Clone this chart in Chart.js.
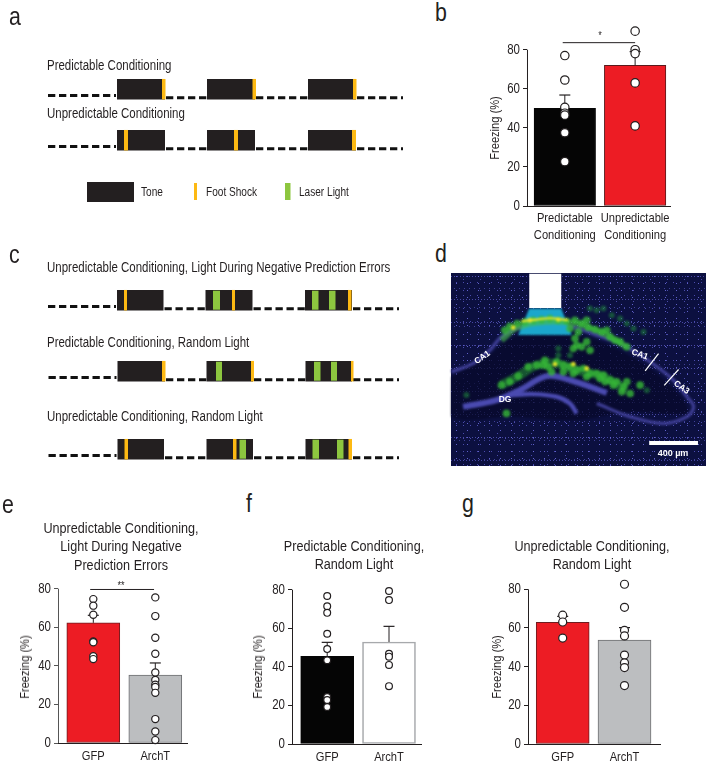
<!DOCTYPE html>
<html>
<head>
<meta charset="utf-8">
<title>Freezing</title>
<script src="https://cdn.jsdelivr.net/npm/chart.js@4"></script>
<style>
  html, body { margin: 0; background: #fff; }
  #page { position: relative; width: 707px; height: 781px; overflow: hidden; font-family: "Liberation Sans", sans-serif; color: #231f20; }
  #page canvas { position: absolute; }
  /* the figure font is condensed, so the text is squeezed sideways */
  .t { position: absolute; white-space: nowrap; font-size: 14px; line-height: 16px; transform-origin: 0 50%; transform: translateY(-50%) scaleX(.82); }
  .c { text-align: center; transform-origin: 50% 50%; transform: translate(-50%, -50%) scaleX(.82); }
  .ytitle { font-size: 13.5px; transform-origin: 50% 50%; transform: translate(-50%, -50%) rotate(-90deg) scaleX(.82); }
  .title { font-size: 15.4px; line-height: 18.4px; text-align: center; transform-origin: 50% 0; transform: translateX(-50%) scaleX(.82); }
  .letter { position: absolute; font-size: 26px; line-height: 26px; transform-origin: 0 50%; transform: translateY(-50%) scaleX(.82); }
  .m { position: absolute; color: #fff; font: bold 8.5px "Liberation Sans", sans-serif; white-space: nowrap; transform: translate(-50%, -50%) rotate(var(--r, 0deg)); }
  /* stipple of the micrograph background */
  #micro { position: absolute; left: 451px; top: 273px; width: 255px; height: 193px; background-color: #0c1040;
    background-image:
      radial-gradient(circle, rgba(110,110,225,.85) .5px, transparent 1px),
      radial-gradient(circle, rgba(90,90,200,.8) .5px, transparent 1px),
      radial-gradient(circle, rgba(100,100,215,.7) .55px, transparent 1px),
      radial-gradient(circle, rgba(80,80,180,.75) .45px, transparent 1px),
      radial-gradient(circle, rgba(95,95,205,.7) .5px, transparent 1px);
    background-size: 11px 7px, 7px 13px, 17px 11px, 5px 19px, 3px 23px;
    background-position: 0 0, 2px 3px, 4px 1px, 1px 6px, 2px 15px; }
</style>
</head>
<body>
<div id="page"></div>
<script>
/* DATA */
const yTicks = [0, 20, 40, 60, 80];

const labelsB = [["Predictable", "Conditioning"], ["Unpredictable", "Conditioning"]];
const meansB = [50, 72];
const errB = [56.8, 79];
const dotsB0 = [77, 64.5, 50.5, 47.5, 46.5, 37.5, 22.7];
const dotsB1 = [89.5, 80, 78, 63, 41];

const labelsE = ["GFP", "ArchT"];
const meansE = [62.3, 35.2];
const errE = [66.2, 41.5];
const dotsE0 = [74.6, 71.2, 66.5, 52.6, 52.2, 45, 43.5];
const dotsE1 = [75.5, 65.8, 54.6, 46.3, 36.6, 32.7, 30.2, 29, 26, 12.4, 6, 1.5];

const meansF = [45.4, 52.9];
const errF = [52.7, 61];
const dotsF0 = [76.7, 71.4, 68, 57.2, 49.2, 43.4, 24.4, 22.8, 19.2];
const dotsF1 = [79.3, 74.6, 46.8, 45.3, 41, 30];

const meansG = [62.9, 53.8];
const errG = [66, 60.2];
const dotsG0 = [66.6, 63.1, 54.8];
const dotsG1 = [82.6, 70.7, 58.8, 55.9, 46, 42, 39.5, 30.2];

/* schematic spans */
const tonesA = [[117, 165], [207, 255], [308, 356]];
const shocksA1 = [[162, 165.5], [252.5, 256], [353, 356.5]];
const shocksA2 = [[124, 128], [234, 238], [352, 356]];
const tonesC1 = [[117, 163.5], [205.5, 252.5], [305, 352]];
const shocksC1 = [[124, 127], [232, 235], [348, 351.5]];
const lightC1 = [[213, 220], [312, 318.5], [329, 335.5]];
const tonesC2 = [[117.5, 165], [206.5, 253], [305.5, 352]];
const shocksC2 = [[162, 165.5], [251, 254], [351, 353.5]];
const lightC2 = [[216, 222], [314, 320.5], [331, 337]];
const tonesC3 = [[117.5, 164], [206.5, 253], [305.5, 352]];
const shocksC3 = [[124.5, 128], [233, 236.5], [348.5, 352]];
const lightC3 = [[239.5, 246], [312.5, 319], [337, 343.5]];

/* micrograph, in picture units */
const ca1Layer = [[65, 395], [130, 370], [180, 330], [215, 290], [270, 262], [340, 250], [420, 258], [500, 285], [580, 315], [660, 365], [730, 420], [770, 470], [790, 500], [770, 530], [700, 550], [600, 530], [500, 490]];
const dgUpper = [[100, 500], [200, 480], [270, 450], [350, 408], [420, 420], [530, 458]];
const dgLower = [[240, 465], [310, 462], [380, 470], [420, 490], [440, 520]];
const hilus = [[65, 410], [180, 345], [230, 300], [340, 270], [500, 300], [660, 385], [760, 480], [770, 520], [600, 515], [440, 540], [250, 530], [65, 530], [65, 410]];
const upperGlow = [[215, 300], [262, 262], [340, 245], [440, 250], [520, 280], [590, 320]];
const lowerGlow = [[215, 435], [265, 408], [320, 375], [380, 370], [440, 390], [520, 410], [590, 450]];
const yellowStreak = [[275, 243], [320, 238], [360, 234], [415, 240]];
const greenCells = [[225, 270], [240, 258], [262, 250], [285, 245], [310, 240], [335, 238], [360, 235], [385, 240], [410, 243], [435, 240], [455, 250], [475, 262], [495, 268], [515, 275], [540, 290], [570, 305], [590, 320], [440, 315], [430, 325], [455, 320], [470, 305], [480, 330], [435, 295], [445, 275], [420, 265], [470, 240], [530, 270], [555, 300], [215, 435], [240, 425], [265, 408], [295, 380], [320, 375], [345, 360], [355, 380], [380, 365], [400, 375], [420, 380], [440, 390], [460, 385], [480, 400], [500, 400], [520, 405], [540, 420], [560, 425], [580, 440], [600, 460], [575, 455], [630, 435], [550, 435], [510, 415], [470, 410], [430, 400], [340, 375], [365, 395], [400, 395], [525, 425], [590, 425], [230, 520]];
const dimCells = [[480, 205], [520, 205], [545, 225], [570, 235], [610, 265], [640, 275], [110, 465], [385, 325], [420, 345], [650, 450], [500, 210], [590, 250], [385, 345]];
const yellowCells = [[250, 262], [375, 372], [430, 372], [470, 385], [300, 240], [385, 238]];
const fiberTip = [[298, 205], [394, 205], [425, 284], [265, 284], [298, 205]];
const fiberBody = [[346, 100], [346, 203]];
const boundary1 = [[685, 340], [645, 392]];
const boundary2 = [[745, 388], [702, 436]];
const scaleBar = [[657, 609], [803, 609]];

const page = document.getElementById("page");
const INK = "#231f20";
const SANS = "'Liberation Sans', sans-serif";
const Y_MAX = 96; // room above the 80 tick for the dots that pass it

function addText(cls, x, y, text, style) {
  const d = document.createElement("div");
  d.className = cls;
  d.style.left = x + "px";
  d.style.top = y + "px";
  d.innerHTML = text;
  if (style) d.style.cssText += style;
  page.appendChild(d);
}

function addCanvas(left, top, w, h, parent) {
  const c = document.createElement("canvas");
  c.width = w;
  c.height = h;
  c.style.left = left + "px";
  c.style.top = top + "px";
  c.style.width = w + "px";
  c.style.height = h + "px";
  (parent || page).appendChild(c);
  return c;
}

/* chart labels get the same sideways squeeze as the page text */
function condense(canvas) {
  const ctx = canvas.getContext("2d");
  const fill = ctx.fillText.bind(ctx);
  ctx.fillText = (s, x, y) => {
    ctx.save();
    ctx.translate(x, y);
    ctx.scale(0.82, 1);
    fill(s, 0, 0);
    ctx.restore();
  };
  return canvas;
}

/* PANELS A + C : TIMELINES */
const schemeSets = [];
function span(a, y, color, width, dash) {
  schemeSets.push({
    type: "line",
    data: [{ x: a[0], y: y }, { x: a[1], y: y }],
    borderColor: color,
    borderWidth: width,
    borderDash: dash || [],
    pointRadius: 0,
    clip: false,
    order: color === "#231f20" ? 3 : dash ? 4 : 1,
  });
}
function row(top, tones, shocks, light) {
  span([tones[0][0] - 69, tones[0][0] - 1], top + 16.5, "#111", 3, [7.3, 3.7]);
  tones.forEach((t, i) => {
    span(t, top + 10.2, "#231f20", 20.5);
    const next = tones[i + 1] ? tones[i + 1][0] : t[1] + 47;
    span([t[1] + 1, next], top + 18.7, "#111", 3, [7.3, 3.7]);
  });
  shocks.forEach((s) => span(s, top + 10.2, "#fdb913", 20.5));
  light.forEach((l) => span(l, top + 10.2, "#8dc63f", 19));
}
row(79, tonesA, shocksA1, []);
row(130, tonesA, shocksA2, []);
row(290, tonesC1, shocksC1, lightC1);
row(361, tonesC2, shocksC2, lightC2);
row(439, tonesC3, shocksC3, lightC3);
span([87, 134], 192, "#231f20", 20);
span([194, 197], 191.5, "#fdb913", 17);
span([285, 290.5], 191.5, "#8dc63f", 17);

new Chart(addCanvas(0, 0, 430, 480), {
  type: "line",
  data: { datasets: schemeSets },
  options: {
    responsive: false,
    animation: false,
    layout: { autoPadding: false },
    plugins: { legend: { display: false }, tooltip: { enabled: false } },
    scales: {
      x: { type: "linear", display: false, min: 0, max: 430 },
      y: { type: "linear", display: false, min: 0, max: 480, reverse: true },
    },
  },
});

/* BAR PANELS */
function barPanel(p) {
  const padL = 44, padR = 12, padB = 46;
  const x0 = Math.round(p.box[0]), x1 = Math.round(p.box[1]);
  const yBot = Math.round(p.box[3]);
  const areaTop = yBot - ((p.box[3] - p.box[2]) * Y_MAX) / 80;
  const top = Math.floor(areaTop) - 14;
  const padT = areaTop - top;
  const unit = p.centers[1] - p.centers[0];
  const xMin = -(p.centers[0] - x0) / unit;
  const xMax = 1 + (x1 - p.centers[1]) / unit;
  const canvas = condense(addCanvas(x0 - padL, top, x1 - x0 + padL + padR, yBot + padB - top));
  const axisColor = p.axisColor || INK;
  const datasets = [];

  [p.dots0, p.dots1].forEach((vals, i) => {
    datasets.push({
      type: "scatter",
      data: vals.map((v) => ({ x: i, y: v })),
      backgroundColor: "#fff",
      borderColor: INK,
      borderWidth: 1.2,
      pointRadius: p.radius,
      clip: false,
      order: 1,
    });
  });
  p.err.forEach((v, i) => {
    datasets.push({
      type: "line",
      data: [{ x: i, y: p.means[i] }, { x: i, y: v }],
      borderColor: INK,
      borderWidth: 1,
      pointStyle: "line",
      pointRadius: [0, 5.5],
      pointBorderColor: INK,
      pointBorderWidth: 1.2,
      clip: false,
      order: 2,
    });
  });
  if (p.bracket) {
    datasets.push({
      type: "line",
      data: [{ x: p.bracket[0], y: p.bracket[2] }, { x: p.bracket[1], y: p.bracket[2] }],
      borderColor: INK,
      borderWidth: 1,
      pointRadius: 0,
      clip: false,
      order: 2,
    });
  }
  // y axis line stops at the 80 tick
  datasets.push({
    type: "line",
    data: [{ x: xMin + 0.5 / unit, y: 0 }, { x: xMin + 0.5 / unit, y: 80 }],
    borderColor: axisColor,
    borderWidth: 1,
    pointRadius: 0,
    clip: false,
    order: 2,
  });
  datasets.push({
    type: "bar",
    data: p.means.map((v, i) => ({ x: i, y: v })),
    backgroundColor: p.fill,
    borderColor: p.edge,
    borderWidth: p.edgeWidth,
    borderSkipped: false,
    barThickness: p.barW,
    order: 3,
  });

  new Chart(canvas, {
    type: "bar",
    data: { datasets },
    options: {
      responsive: false,
      animation: false,
      layout: { autoPadding: false, padding: { top: padT, right: padR, bottom: 0, left: 0 } },
      plugins: { legend: { display: false }, tooltip: { enabled: false } },
      scales: {
        x: {
          type: "linear",
          offset: false,
          min: xMin,
          max: xMax,
          afterFit: (s) => { s.height = padB; },
          afterBuildTicks: (s) => { s.ticks = [{ value: 0 }, { value: 1 }]; },
          border: { color: INK, width: 1 },
          grid: { drawOnChartArea: false, drawTicks: false },
          ticks: {
            autoSkip: false,
            maxRotation: 0,
            padding: p.labelPad,
            color: INK,
            font: { family: SANS, size: 13.6, lineHeight: 1.22 },
            callback: (v) => p.labels[v],
          },
        },
        y: {
          min: 0,
          max: Y_MAX,
          afterFit: (s) => { s.width = padL; },
          afterBuildTicks: (s) => { s.ticks = yTicks.map((v) => ({ value: v })); },
          border: { display: false },
          grid: { drawOnChartArea: false, tickLength: 4, color: axisColor },
          ticks: { padding: 3, color: INK, font: { family: SANS, size: 14 } },
        },
      },
    },
  });
}

barPanel({
  box: [527.3, 671.7, 50, 206.3], centers: [565.3, 636.5], barW: 61.5, radius: 4.2, labelPad: 4,
  labels: labelsB, means: meansB, err: errB, dots0: dotsB0, dots1: dotsB1,
  fill: ["#050505", "#ed1c24"], edge: ["#050505", "#5a1a1c"], edgeWidth: 1, bracket: [-0.03, 1, 83.6],
});
barPanel({
  box: [58, 187.3, 589, 743.3], centers: [93.3, 155.3], barW: 53, radius: 3.6, labelPad: 5,
  labels: labelsE, means: meansE, err: errE, dots0: dotsE0, dots1: dotsE1, axisColor: "#555",
  fill: ["#ed1c24", "#bcbec0"], edge: ["#6d1d20", "#6d6e71"], edgeWidth: 1, bracket: [-0.05, 0.98, 79.6],
});
barPanel({
  box: [291.7, 421, 590, 744.3], centers: [327.2, 389], barW: 53, radius: 3.4, labelPad: 5,
  labels: labelsE, means: meansF, err: errF, dots0: dotsF0, dots1: dotsF1,
  fill: ["#050505", "#fff"], edge: ["#050505", "#a7a9ac"], edgeWidth: 1.6,
});
barPanel({
  box: [527.7, 660, 589, 743.7], centers: [562.7, 624.5], barW: 53, radius: 4, labelPad: 5,
  labels: labelsE, means: meansG, err: errG, dots0: dotsG0, dots1: dotsG1,
  fill: ["#ed1c24", "#bcbec0"], edge: ["#6d1d20", "#6d6e71"], edgeWidth: 1,
});

/* PANEL D : MICROGRAPH */
const micro = document.createElement("div");
micro.id = "micro";
page.appendChild(micro);
const microCanvas = addCanvas(0, 0, 255, 193, micro);
microCanvas.style.filter = "blur(0.8px)";
const xy = (list) => list.map((p) => ({ x: p[0], y: p[1] }));
function path(list, color, width, order) {
  return { type: "line", data: xy(list), borderColor: color, borderWidth: width, pointRadius: 0, tension: 0.35, clip: false, order };
}
function cells(list, color, r, order) {
  return { type: "scatter", data: xy(list), backgroundColor: color, borderWidth: 0, pointRadius: r, clip: false, order };
}
new Chart(microCanvas, {
  type: "scatter",
  data: {
    datasets: [
      { type: "line", data: xy(hilus), fill: "shape", backgroundColor: "rgba(7,9,42,.72)", borderWidth: 0, pointRadius: 0, tension: 0.3, order: 9 },
      path(ca1Layer, "#3c3c92", 3.5, 8),
      path(dgUpper, "#4a4ab0", 6, 8),
      path(dgLower, "#4a4ab0", 4.5, 8),
      { type: "line", data: xy(fiberTip), fill: "shape", backgroundColor: "#1ba7cc", borderWidth: 0, pointRadius: 0, order: 7 },
      path(upperGlow, "rgba(70,190,70,.6)", 6, 6),
      path(lowerGlow, "rgba(40,160,50,.5)", 9, 6),
      cells(dimCells, "rgba(30,130,60,.6)", 3, 5),
      cells(greenCells, "rgba(55,185,55,.8)", 3.8, 4),
      path(yellowStreak, "#eae62c", 2.2, 3),
      cells(yellowCells, "#d8e02a", 2.4, 3),
    ],
  },
  options: {
    responsive: false,
    animation: false,
    layout: { autoPadding: false },
    plugins: { legend: { display: false }, tooltip: { enabled: false } },
    scales: {
      x: { type: "linear", display: false, min: 64, max: 827 },
      y: { type: "linear", display: false, min: 98, max: 678, reverse: true },
    },
  },
});
// sharp parts of the micrograph sit on their own layer, above the blur
new Chart(addCanvas(0, 0, 255, 193, micro), {
  type: "scatter",
  data: {
    datasets: [
      { ...path(fiberBody, "#fff", 32, 2), tension: 0 },
      { ...path(boundary1, "#fff", 1.2, 1), tension: 0 },
      { ...path(boundary2, "#fff", 1.2, 1), tension: 0 },
      { ...path(scaleBar, "#fff", 4, 1), tension: 0 },
    ],
  },
  options: {
    responsive: false,
    animation: false,
    layout: { autoPadding: false },
    plugins: { legend: { display: false }, tooltip: { enabled: false } },
    scales: {
      x: { type: "linear", display: false, min: 64, max: 827 },
      y: { type: "linear", display: false, min: 98, max: 678, reverse: true },
    },
  },
});
addText("m", 482, 357, "CA1", "--r:-35deg");
addText("m", 640, 354, "CA1", "--r:20deg");
addText("m", 682, 387, "CA3", "--r:35deg");
addText("m", 505, 399, "DG");
addText("m", 673, 453, "400 µm", "font-size:9px");

/* TEXT */
addText("letter", 9, 16, "a");
addText("letter", 435, 12, "b");
addText("letter", 9, 254, "c");
addText("letter", 435, 253, "d");
addText("letter", 2, 504, "e");
addText("letter", 246, 503, "f");
addText("letter", 462, 503, "g");

addText("t", 47, 64.5, "Predictable Conditioning");
addText("t", 47, 112.5, "Unpredictable Conditioning");
addText("t", 141, 192, "Tone", "font-size:12.3px");
addText("t", 206, 192, "Foot Shock", "font-size:12.3px");
addText("t", 299, 192, "Laser Light", "font-size:12.3px");
addText("t", 47, 267, "Unpredictable Conditioning, Light During Negative Prediction Errors");
addText("t", 47, 341.5, "Predictable Conditioning, Random Light");
addText("t", 47, 416, "Unpredictable Conditioning, Random Light");

addText("t title", 121, 519, "Unpredictable Conditioning,<br>Light During Negative<br>Prediction Errors");
addText("t title", 354, 537, "Predictable Conditioning,<br>Random Light");
addText("t title", 592, 537, "Unpredictable Conditioning,<br>Random Light");
addText("t ytitle", 495, 128.3, "Freezing (%)");
addText("t ytitle", 25, 666.5, "Freezing (%)");
addText("t ytitle", 258.3, 667, "Freezing (%)");
addText("t ytitle", 497.3, 666.5, "Freezing (%)");
addText("t c", 600, 35, "*", "font-size:11px");
addText("t c", 121, 585, "**", "font-size:11px");
</script>
</body>
</html>
